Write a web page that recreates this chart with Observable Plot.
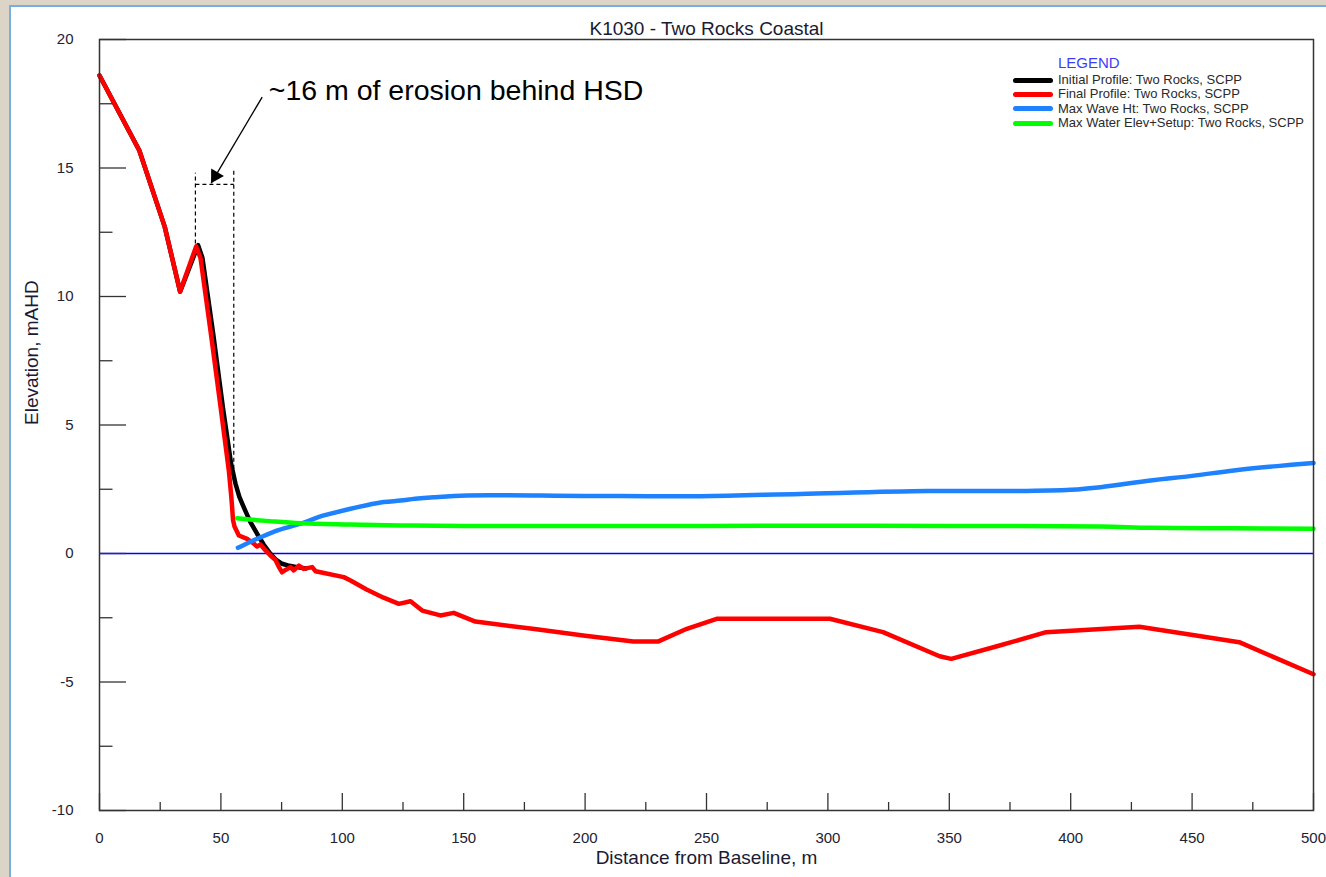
<!DOCTYPE html>
<html>
<head>
<meta charset="utf-8">
<script src="https://cdn.jsdelivr.net/npm/d3@7"></script>
<script src="https://cdn.jsdelivr.net/npm/@observablehq/plot@0.6"></script>
<style>
html, body { margin: 0; padding: 0; width: 1326px; height: 877px; overflow: hidden; background: #dcd4c6; font-family: "Liberation Sans", Arial, sans-serif; }
#panel { position: absolute; left: 9px; top: 5px; width: 1317px; height: 872px; background: #ffffff; border-left: 2px solid #78aee2; border-top: 2px solid #78aee2; }
#chart { position: absolute; left: 0; top: 0; }
#legend { position: absolute; left: 1013px; top: 55px; font-family: "Liberation Sans", Arial, sans-serif; }
#legend .title { height: 15px; line-height: 15px; font-size: 15px; color: #3c3cff; padding-left: 45px; margin-bottom: 3px; }
#legend .row { display: flex; align-items: center; height: 14.4px; }
#legend .sw { width: 40px; height: 5px; border-radius: 3px; margin-right: 5px; }
#legend .lab { font-size: 13px; line-height: 14.4px; color: #2a2a2a; white-space: nowrap; }
</style>
</head>
<body>
<div id="panel"></div>
<div id="chart"></div>
<div id="legend"></div>
<script>
// ---- Data ----
const chartTitle = "K1030 - Two Rocks Coastal";
const xTitle = "Distance from Baseline, m";
const yTitle = "Elevation, mAHD";

const seriesNames = [
  "Initial Profile: Two Rocks, SCPP",
  "Final Profile: Two Rocks, SCPP",
  "Max Wave Ht: Two Rocks, SCPP",
  "Max Water Elev+Setup: Two Rocks, SCPP"
];
const seriesColors = ["#000000", "#ff0000", "#1e82ff", "#00ff00"];

const initDist = [0, 16.4, 26.9, 33.2, 40.6, 42.4, 46.9, 50.8, 54.2, 56.0, 57.6, 59.4, 62.0, 64.9, 67.6, 70.4, 72.8, 75.2, 78.2, 81.4, 85.0];
const initElev = [18.6, 15.68, 12.7, 10.19, 12.0, 11.5, 8.5, 5.7, 3.49, 2.72, 2.2, 1.8, 1.25, 0.77, 0.35, -0.01, -0.25, -0.4, -0.48, -0.53, -0.58];

const finalDist = [0, 16.4, 26.9, 33.2, 39.8, 41.6, 46.1, 50.0, 53.3, 54.3, 55.0, 55.6, 57.4, 60.8, 63.6, 64.9, 66.3, 68.4, 70.4, 72.5, 73.9, 75.2, 76.6, 78.7, 80.0, 82.1, 84.1, 87.6, 89.0, 91.0, 100.6, 103.4, 110, 117, 123.3, 128.1, 132.9, 140.4, 145.9, 154.8, 180, 200, 219.9, 230.2, 241.9, 254.2, 300.8, 322.7, 346, 350.8, 370, 389.9, 428.3, 451.6, 469.4, 500];
const finalElev = [18.6, 15.68, 12.7, 10.19, 11.95, 11.5, 8.4, 5.6, 3.2, 2.2, 1.3, 1.05, 0.70, 0.57, 0.38, 0.27, 0.35, 0.12, -0.08, -0.25, -0.53, -0.73, -0.64, -0.53, -0.66, -0.47, -0.6, -0.53, -0.69, -0.73, -0.92, -1.05, -1.4, -1.72, -1.96, -1.86, -2.22, -2.41, -2.31, -2.65, -2.95, -3.2, -3.42, -3.42, -2.93, -2.54, -2.54, -3.06, -4.0, -4.1, -3.6, -3.06, -2.85, -3.19, -3.45, -4.7];

const waveDist = [57.0, 62.2, 66.3, 74, 82.8, 92, 103.4, 110, 117.1, 124, 130, 137.7, 151.4, 200, 247.5, 288.7, 340.9, 376.6, 400, 412.3, 432.9, 450, 467.2, 485, 500];
const waveHt = [0.22, 0.46, 0.63, 0.92, 1.16, 1.47, 1.74, 1.88, 2.0, 2.06, 2.13, 2.19, 2.26, 2.24, 2.23, 2.32, 2.43, 2.43, 2.48, 2.58, 2.84, 3.02, 3.23, 3.4, 3.52];

const waterDist = [56.7, 62, 70, 82.8, 103, 124, 150, 200, 250, 300, 350, 412, 433, 467, 500];
const waterElev = [1.37, 1.32, 1.26, 1.18, 1.13, 1.09, 1.07, 1.07, 1.07, 1.08, 1.07, 1.05, 1.0, 0.98, 0.96];

const yMajor = [-10, -5, 0, 5, 10, 15, 20];
const yMinor = [-7.5, -2.5, 2.5, 7.5, 12.5, 17.5];
const xMajor = [0, 50, 100, 150, 200, 250, 300, 350, 400, 450, 500];
const xMinor = [25, 75, 125, 175, 225, 275, 325, 375, 425, 475];

// Annotation (erosion behind HSD)
const noteText = "~16 m of erosion behind HSD";
const notePos = [{x: 69.7, y: 18.0}];
const hsdDashes = [
  {x1: 39.5, y1: 12.06, x2: 39.5, y2: 14.82},
  {x1: 55.3, y1: 3.03, x2: 55.3, y2: 14.97},
  {x1: 39.5, y1: 14.36, x2: 55.3, y2: 14.36}
];
const arrowLine = [{x1: 67.0, y1: 17.76, x2: 46.0, y2: 14.41}];
const arrowTip = [{x: 46.0, y: 14.41}];

// ---- Build tables ----
const zip = (xs, ys) => xs.map((x, i) => ({x, y: ys[i]}));
const initial = zip(initDist, initElev);
const final = zip(finalDist, finalElev);
const wave = zip(waveDist, waveHt);
const water = zip(waterDist, waterElev);

const FONT = '"Liberation Sans", Arial, sans-serif';
const lineOpts = (stroke, extra = {}) => ({x: "x", y: "y", stroke, strokeWidth: 4.5, strokeLinejoin: "round", strokeLinecap: "round", ...extra});

const chart = Plot.plot({
  width: 1326,
  height: 877,
  marginLeft: 99,
  marginRight: 13,
  marginTop: 39,
  marginBottom: 67,
  x: {domain: [0, 500]},
  y: {domain: [-10, 20]},
  style: {background: "transparent", fontFamily: FONT, fontSize: "15px", color: "#222233", overflow: "visible"},
  marks: [
    Plot.ruleY([0], {stroke: "#0000ff", strokeWidth: 1.5}),
    Plot.line(initial, lineOpts(seriesColors[0])),
    Plot.line(final, lineOpts(seriesColors[1])),
    Plot.line(wave, lineOpts(seriesColors[2], {curve: "catmull-rom"})),
    Plot.line(water, lineOpts(seriesColors[3], {curve: "catmull-rom"})),
    Plot.link(hsdDashes, {x1: "x1", y1: "y1", x2: "x2", y2: "y2", stroke: "#000", strokeWidth: 1.2, strokeDasharray: "4,3"}),
    Plot.link(arrowLine, {x1: "x1", y1: "y1", x2: "x2", y2: "y2", stroke: "#000", strokeWidth: 1.3}),
    Plot.dot(arrowTip, {x: "x", y: "y", symbol: "triangle", r: 5.5, rotate: 210.5, fill: "#000", stroke: "none", dx: 4.2, dy: -7.2}),
    Plot.text(notePos, {x: "x", y: "y", text: () => noteText, textAnchor: "start", lineAnchor: "middle", fontSize: 28.5, fill: "#000", fontFamily: FONT}),
    Plot.frame({stroke: "#333333", strokeWidth: 1.5}),
    Plot.axisY({ticks: yMajor, tickSize: -27, tickFormat: () => "", label: null, stroke: "#333333", strokeWidth: 1.3}),
    Plot.axisY({ticks: yMinor, tickSize: -13.5, tickFormat: () => "", label: null, stroke: "#333333", strokeWidth: 1.3}),
    Plot.axisY({ticks: yMajor, tickSize: 0, tickPadding: 26, tickFormat: d => String(d), label: null, fontSize: 15}),
    Plot.axisX({ticks: xMajor, tickSize: -17, tickFormat: () => "", label: null, stroke: "#333333", strokeWidth: 1.3}),
    Plot.axisX({ticks: xMinor, tickSize: -8, tickFormat: () => "", label: null, stroke: "#333333", strokeWidth: 1.3}),
    Plot.axisX({ticks: xMajor, tickSize: 0, tickPadding: 22, tickFormat: d => String(d), label: null, fontSize: 15}),
    Plot.text([chartTitle], {text: d => d, frameAnchor: "top", lineAnchor: "middle", dy: -11, fontSize: 19, fill: "#1a1a33", fontFamily: FONT}),
    Plot.text([xTitle], {text: d => d, frameAnchor: "bottom", lineAnchor: "middle", dy: 47, fontSize: 19, fill: "#1a1a33", fontFamily: FONT}),
    Plot.text([yTitle], {text: d => d, frameAnchor: "left", lineAnchor: "middle", dx: -68, rotate: -90, fontSize: 19, fill: "#1a1a33", fontFamily: FONT})
  ]
});
document.getElementById("chart").appendChild(chart);

// ---- Legend ----
const legend = document.getElementById("legend");
const lt = document.createElement("div");
lt.className = "title";
lt.textContent = "LEGEND";
legend.appendChild(lt);
seriesNames.forEach((name, i) => {
  const row = document.createElement("div");
  row.className = "row";
  const sw = document.createElement("span");
  sw.className = "sw";
  sw.style.background = seriesColors[i];
  const lab = document.createElement("span");
  lab.className = "lab";
  lab.textContent = name;
  row.appendChild(sw);
  row.appendChild(lab);
  legend.appendChild(row);
});
</script>
</body>
</html>
